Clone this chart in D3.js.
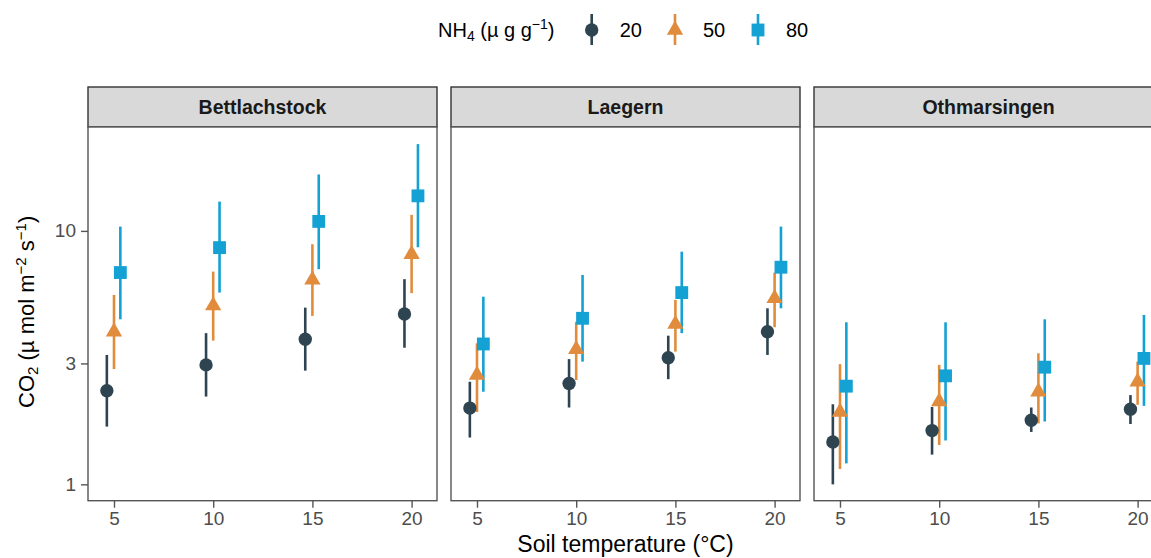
<!DOCTYPE html>
<html>
<head>
<meta charset="utf-8">
<script src="https://cdn.jsdelivr.net/npm/d3@7"></script>
<style>
  html, body { margin: 0; padding: 0; background: #ffffff; }
  svg { display: block; font-family: "Liberation Sans", Arial, sans-serif; }
</style>
</head>
<body>
<svg id="chart" width="1151" height="558"></svg>
<script>
// Soil CO2 efflux by temperature and NH4 addition, one facet per site
const sites = ["Bettlachstock", "Laegern", "Othmarsingen"];
const temps = [5, 10, 15, 20];
const levels = ["20", "50", "80"];
const xTicks = [5, 10, 15, 20];
const yTicks = [1, 3, 10];
const xLimits = [3.69, 21.28];
const yLimits = [0.862, 25.7];

// mean, lower, upper per site -> level -> temperature
const meanBett = { "20": [2.34, 2.96, 3.74, 4.70], "50": [4.00, 5.07, 6.41, 8.09], "80": [6.85, 8.59, 10.9, 13.75] };
const lowBett  = { "20": [1.69, 2.22, 2.81, 3.46], "50": [2.85, 3.69, 4.62, 5.68], "80": [4.48, 5.71, 7.06, 8.62] };
const highBett = { "20": [3.24, 3.95, 4.98, 6.45], "50": [5.59, 6.91, 8.86, 11.57], "80": [10.4, 13.05, 16.7, 22.0] };

const meanLaeg = { "20": [2.00, 2.50, 3.16, 4.00], "50": [2.70, 3.41, 4.29, 5.42], "80": [3.58, 4.52, 5.71, 7.19] };
const lowLaeg  = { "20": [1.53, 2.01, 2.60, 3.24], "50": [1.93, 2.58, 3.34, 4.17], "80": [2.32, 3.05, 3.95, 4.95] };
const highLaeg = { "20": [2.54, 3.12, 3.86, 4.95], "50": [3.60, 4.38, 5.34, 6.84], "80": [5.50, 6.70, 8.28, 10.4] };

const meanOthm = { "20": [1.47, 1.63, 1.79, 1.98], "50": [1.93, 2.12, 2.32, 2.54], "80": [2.44, 2.68, 2.90, 3.14] };
const lowOthm  = { "20": [1.00, 1.31, 1.61, 1.73], "50": [1.15, 1.43, 1.74, 2.06], "80": [1.21, 1.49, 1.77, 2.04] };
const highOthm = { "20": [2.07, 2.02, 2.01, 2.25], "50": [2.98, 2.96, 3.29, 3.05], "80": [4.36, 4.36, 4.48, 4.66] };

const meanBySite = [meanBett, meanLaeg, meanOthm];
const lowBySite  = [lowBett, lowLaeg, lowOthm];
const highBySite = [highBett, highLaeg, highOthm];

// styling
const colors = { "20": "#2E4450", "50": "#E18C3D", "80": "#14A1D3" };
const shapes = { "20": d3.symbolCircle, "50": d3.symbolTriangle, "80": d3.symbolSquare };
const shapeSize = { "20": 140, "50": 115, "80": 165 };
const dodge = { "20": -0.36, "50": 0, "80": 0.32 };

const svg = d3.select("#chart");

const panel = { left: 88, width: 349, gap: 14, stripTop: 87, stripH: 40, bottom: 500.7 };
const panelTop = panel.stripTop + panel.stripH;

const x = d3.scaleLinear().domain(xLimits).range([0, panel.width]);
const y = d3.scaleLog().domain(yLimits).range([panel.bottom, panelTop]);

// flatten rows for drawing
function rowsFor(si) {
  const out = [];
  levels.forEach(lv => {
    temps.forEach((t, ti) => {
      out.push({ level: lv, temp: t,
                 mean: meanBySite[si][lv][ti],
                 low: lowBySite[si][lv][ti],
                 high: highBySite[si][lv][ti] });
    });
  });
  return out;
}

sites.forEach((site, si) => {
  const g = svg.append("g")
    .attr("transform", `translate(${panel.left + si * (panel.width + panel.gap)},0)`);

  // strip
  g.append("rect")
    .attr("x", 0).attr("y", panel.stripTop)
    .attr("width", panel.width).attr("height", panel.stripH)
    .attr("fill", "#D9D9D9").attr("stroke", "#333333").attr("stroke-width", 1.4);
  g.append("text")
    .attr("x", panel.width / 2).attr("y", panel.stripTop + panel.stripH / 2)
    .attr("dy", "0.36em").attr("text-anchor", "middle")
    .attr("font-size", 19.5).attr("font-weight", "bold").attr("fill", "#1A1A1A")
    .text(site);

  // panel background + border
  g.append("rect")
    .attr("x", 0).attr("y", panelTop)
    .attr("width", panel.width).attr("height", panel.bottom - panelTop)
    .attr("fill", "#ffffff").attr("stroke", "#555555").attr("stroke-width", 1.4);

  // x axis
  const xAxis = g.append("g")
    .attr("transform", `translate(0,${panel.bottom})`)
    .call(d3.axisBottom(x).tickValues(xTicks).tickSize(7).tickPadding(4));
  xAxis.select(".domain").remove();
  xAxis.selectAll("line").attr("stroke", "#555555").attr("stroke-width", 1.4);
  xAxis.selectAll("text").attr("font-size", 19).attr("fill", "#4D4D4D")
    .attr("font-family", "Liberation Sans, Arial, sans-serif");

  // y axis only on first panel
  if (si === 0) {
    const yAxis = g.append("g")
      .call(d3.axisLeft(y).tickValues(yTicks).tickFormat(d3.format("d")).tickSize(7).tickPadding(5));
    yAxis.select(".domain").remove();
    yAxis.selectAll("line").attr("stroke", "#555555").attr("stroke-width", 1.4);
    yAxis.selectAll("text").attr("font-size", 19).attr("fill", "#4D4D4D")
      .attr("font-family", "Liberation Sans, Arial, sans-serif");
  }

  const rows = rowsFor(si);
  const marks = g.append("g");

  // error bars
  marks.selectAll("line.err").data(rows).join("line")
    .attr("class", "err")
    .attr("x1", d => x(d.temp + dodge[d.level]))
    .attr("x2", d => x(d.temp + dodge[d.level]))
    .attr("y1", d => y(d.low))
    .attr("y2", d => y(d.high))
    .attr("stroke", d => colors[d.level])
    .attr("stroke-width", 2.6);

  // points
  marks.selectAll("path.pt").data(rows).join("path")
    .attr("class", "pt")
    .attr("transform", d => `translate(${x(d.temp + dodge[d.level])},${y(d.mean)})`)
    .attr("d", d => d3.symbol().type(shapes[d.level]).size(shapeSize[d.level])())
    .attr("fill", d => colors[d.level]);
});

// axis titles
svg.append("text")
  .attr("x", panel.left + (3 * panel.width + 2 * panel.gap) / 2)
  .attr("y", 552)
  .attr("text-anchor", "middle")
  .attr("font-size", 23).attr("fill", "#000000")
  .text("Soil temperature (°C)");

const yTitle = svg.append("text")
  .attr("transform", `translate(34,${(panelTop + panel.bottom) / 2 - 2}) rotate(-90)`)
  .attr("text-anchor", "middle")
  .attr("font-size", 22).attr("fill", "#000000");
yTitle.append("tspan").text("CO");
yTitle.append("tspan").attr("font-size", 15).attr("dy", 4).text("2");
yTitle.append("tspan").attr("dy", -4).text(" (µ mol m");
yTitle.append("tspan").attr("font-size", 15).attr("dy", -8).text("−2");
yTitle.append("tspan").attr("dy", 8).text(" s");
yTitle.append("tspan").attr("font-size", 15).attr("dy", -8).text("−1");
yTitle.append("tspan").attr("dy", 8).text(")");

// legend
const legend = svg.append("g");
const lt = legend.append("text")
  .attr("x", 438).attr("y", 37)
  .attr("font-size", 20).attr("fill", "#000000");
lt.append("tspan").text("NH");
lt.append("tspan").attr("font-size", 14).attr("dy", 4).text("4");
lt.append("tspan").attr("dy", -4).text(" (µ g g");
lt.append("tspan").attr("font-size", 14).attr("dy", -8).text("−1");
lt.append("tspan").attr("dy", 8).text(")");

const keyX = { "20": 591.7, "50": 675, "80": 758 };
const keyY = 30;
levels.forEach(lv => {
  legend.append("line")
    .attr("x1", keyX[lv]).attr("x2", keyX[lv])
    .attr("y1", 14).attr("y2", 45)
    .attr("stroke", colors[lv]).attr("stroke-width", 2.6);
  legend.append("path")
    .attr("transform", `translate(${keyX[lv]},${keyY})`)
    .attr("d", d3.symbol().type(shapes[lv]).size(shapeSize[lv])())
    .attr("fill", colors[lv]);
  legend.append("text")
    .attr("x", keyX[lv] + 28).attr("y", 37)
    .attr("font-size", 20).attr("fill", "#000000")
    .text(lv);
});
</script>
</body>
</html>
